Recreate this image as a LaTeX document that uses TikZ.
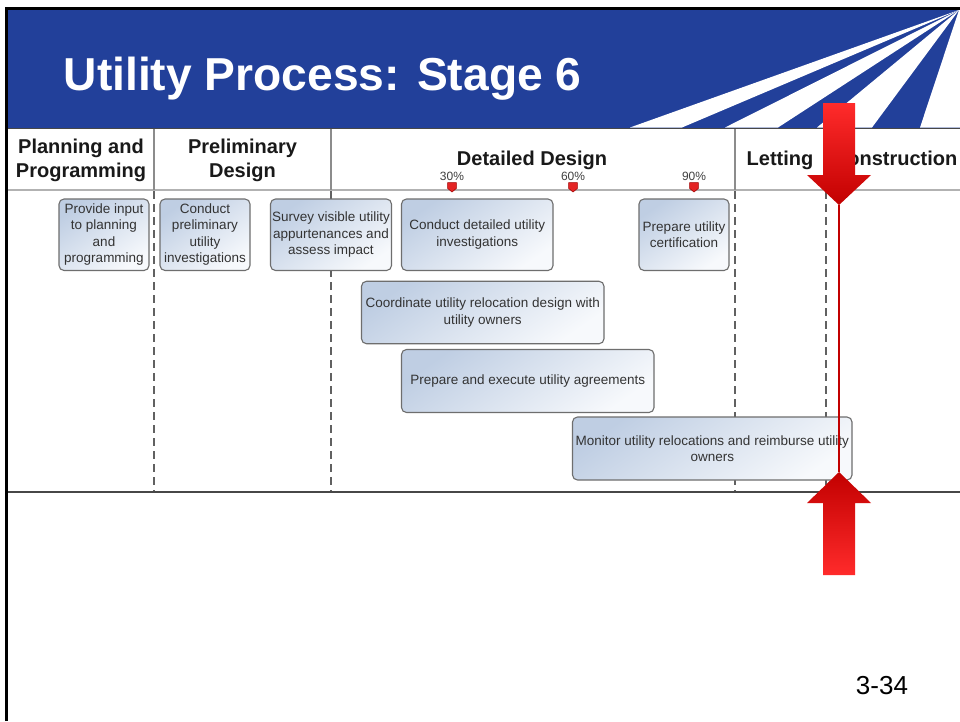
\documentclass[tikz,border=0pt]{standalone}
\usepackage{fontspec}
\setmainfont{Liberation Sans}
\definecolor{hdrblue}{HTML}{22409A}
\definecolor{boxdark}{HTML}{BFCEE3}
\definecolor{boxlight}{HTML}{F7F9FC}
\definecolor{boxedge}{HTML}{6E6E6E}
\definecolor{boxtext}{HTML}{333333}
\definecolor{arrowbright}{HTML}{FF2B2B}
\definecolor{arrowdark}{HTML}{C20000}
\definecolor{mkred}{HTML}{E42424}
\definecolor{mkedge}{HTML}{A00000}
\begin{document}
\begin{tikzpicture}[x=1pt,y=-1pt,
  box/.style={draw=boxedge, line width=1.1pt, rounded corners=5pt,
    top color=boxdark, bottom color=boxlight, shading angle=35,
    inner sep=0pt, align=center, text=boxtext,
    font=\fontsize{13.5}{16.5}\selectfont},
  colhead/.style={inner sep=0pt, align=center, text=black!90,
    font=\fontsize{20}{24}\selectfont\bfseries},
  pct/.style={inner sep=0pt, anchor=base, text=black!75,
    font=\fontsize{12}{14}\selectfont},
  mainrule/.style={draw=black!72, line width=1.3pt},
  lightrule/.style={draw=black!30, line width=1.3pt},
  solidsep/.style={draw=black!45, line width=1.5pt},
  dashsep/.style={draw=black!62, line width=1.6pt, dash pattern=on 8pt off 5pt},
  marker/.style={fill=mkred, draw=mkedge, line width=0.5pt},
  redline/.style={draw=arrowdark, line width=2pt},
  bigarrow/.style={draw=none}]
\useasboundingbox (0,0) rectangle (960,721);
\fill[white] (0,0) rectangle (960,721);

% header band
\fill[hdrblue] (8,9) rectangle (960,127.5);
\coordinate (apex) at (959,10);
\fill[white] (apex) -- (630,127.5) -- (682,127.5) -- cycle;
\fill[white] (apex) -- (725,127.5) -- (778,127.5) -- cycle;
\fill[white] (apex) -- (817,127.5) -- (872,127.5) -- cycle;
\fill[white] (apex) -- (920,127.5) -- (960,127.5) -- (960,10) -- cycle;
\node[anchor=base west, inner sep=0pt, text=white,
  font=\fontsize{46.2}{50}\selectfont\bfseries] (title) at (63.5,90.5) {Utility Process: Stage 6};

% frame
\draw[black, line width=3pt] (6.5,721) -- (6.5,8) -- (960,8);

% table rules
\draw[mainrule] (8,128.5) -- (960,128.5);
\draw[lightrule] (8,190) -- (960,190);
\draw[mainrule] (8,492) -- (960,492);
\foreach \xx in {154,331,735,826}{
  \draw[solidsep] (\xx,129) -- (\xx,190);
  \draw[dashsep] (\xx,191) -- (\xx,491);
}

% column headings
\node[colhead] (h1) at (81,160) {Planning and\\Programming};
\node[colhead] (h2) at (242.5,160) {Preliminary\\Design};
\node[colhead, anchor=base] (h3) at (532,165.5) {Detailed Design};
\node[colhead, anchor=base] (h4) at (780,165.5) {Letting};
\node[colhead, anchor=base east] (h5) at (957.5,165.5) {Construction};

% milestones
\foreach \mx/\ml in {452/30\%,573/60\%,694/90\%}{
  \node[pct] at (\mx,180.5) {\ml};
  \draw[marker] (\mx-4.3,182.5) -- (\mx+4.3,182.5) -- (\mx+4.3,188.5) -- (\mx,192) -- (\mx-4.3,188.5) -- cycle;
}

% activity boxes
\node[box, minimum width=90pt, minimum height=71.5pt] (b1) at (104,234.75) {Provide input\\to planning\\and\\programming};
\node[box, minimum width=90pt, minimum height=71.5pt] (b2) at (205,234.75) {Conduct\\preliminary\\utility\\investigations};
\node[box, minimum width=121pt, minimum height=71.5pt] (b3) at (331,234.75) {Survey visible utility\\appurtenances and\\assess impact};
\node[box, minimum width=151.5pt, minimum height=71.5pt] (b4) at (477.25,234.75) {Conduct detailed utility\\investigations};
\node[box, minimum width=90pt, minimum height=71.5pt] (b5) at (684,234.75) {Prepare utility\\certification};
\node[box, minimum width=242.5pt, minimum height=62.5pt] (b6) at (482.75,312.5) {Coordinate utility relocation design with\\utility owners};
\node[box, minimum width=252.5pt, minimum height=63pt] (b7) at (527.75,381) {Prepare and execute utility agreements};
\node[box, minimum width=279.5pt, minimum height=63pt] (b8) at (712.25,448.5) {Monitor utility relocations and reimburse utility\\owners};

% red marker line and arrows
\coordinate (downtip) at (839,205);
\coordinate (uptip) at (839,472);
\draw[redline] (downtip) -- (uptip);
\path[bigarrow, top color=arrowbright, bottom color=arrowdark]
  (823,103) -- (855,103) -- (855,175) -- (871,175) -- (downtip) -- (807,175) -- (823,175) -- cycle;
\path[bigarrow, top color=arrowdark, bottom color=arrowbright]
  (823,575) -- (855,575) -- (855,503) -- (871,503) -- (uptip) -- (807,503) -- (823,503) -- cycle;

% slide number
\node[anchor=base, inner sep=0pt, font=\fontsize{26}{30}\selectfont] (pg) at (882,694) {3-34};
\end{tikzpicture}
\end{document}
